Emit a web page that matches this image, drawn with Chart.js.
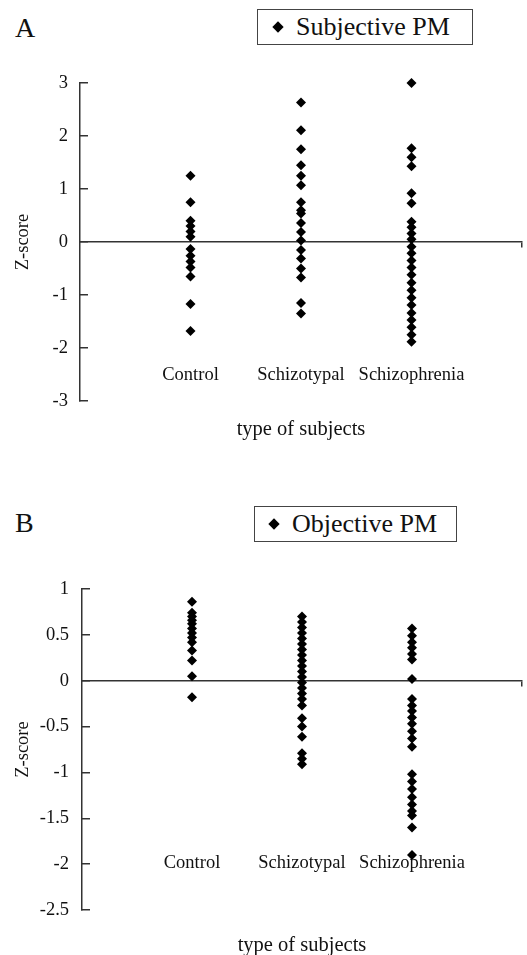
<!DOCTYPE html>
<html>
<head>
<meta charset="utf-8">
<script src="https://cdn.jsdelivr.net/npm/chart.js@4.4.1/dist/chart.umd.min.js"></script>
<style>
  body { margin: 0; width: 527px; height: 955px; position: relative; overflow: hidden; background: #fff; font-family: "Liberation Serif", serif; color: #111; }
  .panel { position: absolute; left: 0; width: 527px; }
  .letter { position: absolute; left: 15px; font-size: 28px; line-height: 1; }
  .legend { position: absolute; box-sizing: border-box; height: 36px; border: 1.5px solid #444; display: flex; align-items: center; font-size: 26px; white-space: nowrap; }
  .legend i { display: inline-block; width: 8px; height: 8px; background: #000; transform: rotate(45deg); margin-right: 14px; }
</style>
</head>
<body>
<div class="letter" style="top:14px">A</div>
<div class="legend" id="legA" style="left:257px;top:9px;width:216px;padding-left:16px"></div>
<div class="panel" style="top:0;height:480px"><canvas id="chartA"></canvas></div>

<div class="letter" style="top:509px">B</div>
<div class="legend" id="legB" style="left:254px;top:506px;width:203px;padding-left:15px"></div>
<div class="panel" style="top:480px;height:475px"><canvas id="chartB"></canvas></div>

<script>
// groups on the x axis (placed at 1, 2, 3)
const groups = ["Control", "Schizotypal", "Schizophrenia"];

// panel A - Subjective PM z-scores
const subjControl = [1.25, 0.75, 0.4, 0.3, 0.2, 0.1, -0.13, -0.26, -0.37, -0.48, -0.65, -1.17, -1.68];
const subjSchizotypal = [2.63, 2.11, 1.75, 1.45, 1.25, 1.07, 0.75, 0.6, 0.54, 0.36, 0.19, 0.03, -0.15, -0.31, -0.5, -0.67, -1.15, -1.35];
const subjSchizophrenia = [3.0, 1.77, 1.6, 1.43, 0.92, 0.73, 0.38, 0.28, 0.16, 0.05, -0.09, -0.21, -0.35, -0.48, -0.62, -0.77, -0.91, -1.05, -1.19, -1.34, -1.47, -1.61, -1.75, -1.88];
const ticksA = [3, 2, 1, 0, -1, -2, -3];

// panel B - Objective PM z-scores
const objControl = [0.86, 0.74, 0.7, 0.66, 0.62, 0.57, 0.52, 0.47, 0.42, 0.33, 0.22, 0.05, -0.18];
const objSchizotypal = [0.7, 0.64, 0.58, 0.52, 0.46, 0.4, 0.34, 0.28, 0.22, 0.16, 0.1, 0.04, -0.02, -0.08, -0.14, -0.2, -0.27, -0.41, -0.5, -0.61, -0.79, -0.85, -0.91];
const objSchizophrenia = [0.57, 0.49, 0.42, 0.36, 0.29, 0.23, 0.02, -0.2, -0.27, -0.33, -0.4, -0.47, -0.55, -0.63, -0.72, -1.02, -1.1, -1.18, -1.27, -1.35, -1.42, -1.47, -1.6, -1.9];
const ticksB = [1, 0.5, 0, -0.5, -1, -1.5, -2, -2.5];

const axisColor = "#333";
const serif = "'Liberation Serif', 'Times New Roman', serif";

function toPoints(cols) {
  const pts = [];
  cols.forEach((vals, i) => vals.forEach((v) => pts.push({ x: i + 1, y: v })));
  return pts;
}

function makeChart(id, legId, label, cols, yTicks, o) {
  document.getElementById(legId).innerHTML = "<i></i>" + label;

  return new Chart(document.getElementById(id), {
    type: "scatter",
    data: {
      datasets: [{
        label: label,
        data: toPoints(cols),
        pointStyle: "rectRot",
        pointRadius: 5,
        backgroundColor: "#000",
        borderWidth: 0,
        clip: false,
      }],
    },
    options: {
      responsive: true,
      maintainAspectRatio: false,
      animation: false,
      events: [],
      layout: { padding: { top: o.padTop, bottom: o.padBottom, left: 0, right: 3 } },
      plugins: { legend: { display: false }, tooltip: { enabled: false } },
      scales: {
        // category labels + axis title, sitting inside the plot
        x: {
          type: "linear",
          min: 0,
          max: 4,
          position: { y: o.labelAt },
          afterBuildTicks: (s) => { s.ticks = groups.map((g, i) => ({ value: i + 1 })); },
          ticks: {
            padding: 0,
            color: "#111",
            font: { family: serif, size: 18.5 },
            callback: (v) => groups[v - 1] || "",
          },
          grid: { display: false },
          border: { display: false },
          title: {
            display: true,
            text: "type of subjects",
            color: "#111",
            font: { family: serif, size: 20.5 },
            padding: { top: o.titlePad, bottom: 0 },
          },
        },
        // zero line with a small end tick
        x0: {
          type: "linear",
          min: 0,
          max: 4,
          position: { y: 0 },
          afterBuildTicks: (s) => { s.ticks = [{ value: 4 }]; },
          ticks: { display: false },
          grid: { display: true, drawOnChartArea: false, tickLength: 5, color: axisColor, lineWidth: 1.5 },
          border: { display: true, color: axisColor, width: 1.5 },
        },
        y: {
          type: "linear",
          min: yTicks[yTicks.length - 1],
          max: yTicks[0],
          afterBuildTicks: (s) => { s.ticks = yTicks.map((v) => ({ value: v })); },
          afterFit: (s) => { s.width = o.axisX; },
          ticks: {
            // tick marks point inward (negative length), so labels need the extra room back
            padding: o.axisX - o.labelRight + 8,
            color: "#111",
            font: { family: serif, size: 18.5 },
            callback: (v) => String(v),
          },
          grid: { display: true, drawOnChartArea: false, tickLength: -8, color: axisColor, lineWidth: 1.5 },
          border: { display: true, color: axisColor, width: 1.5 },
          title: {
            display: true,
            text: "Z-score",
            color: "#111",
            font: { family: serif, size: 18.5 },
            padding: { top: 12, bottom: 0 },
          },
        },
      },
    },
  });
}

makeChart("chartA", "legA", "Subjective PM",
  [subjControl, subjSchizotypal, subjSchizophrenia], ticksA,
  { padTop: 83, padBottom: 79, labelAt: -2.15, titlePad: 31, axisX: 80, labelRight: 68 });

makeChart("chartB", "legB", "Objective PM",
  [objControl, objSchizotypal, objSchizophrenia], ticksB,
  { padTop: 109, padBottom: 45, labelAt: -1.78, titlePad: 59, axisX: 82, labelRight: 69 });
</script>
</body>
</html>
